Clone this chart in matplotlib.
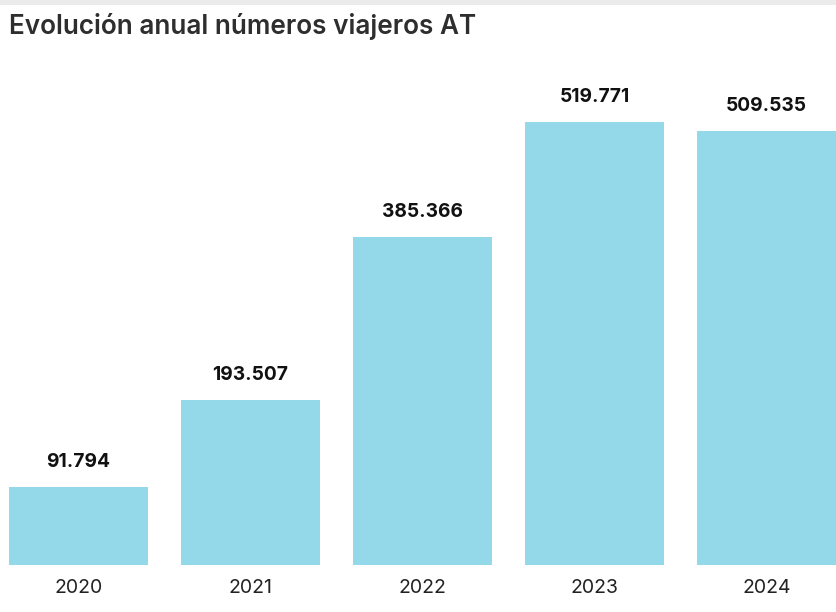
import matplotlib
matplotlib.use("Agg")
import matplotlib.pyplot as plt
from matplotlib.patches import Rectangle

years = ["2020", "2021", "2022", "2023", "2024"]
viajeros = [91794, 193507, 385366, 519771, 509535]
value_labels = ["91.794", "193.507", "385.366", "519.771", "509.535"]

W, H = 836, 612
fig = plt.figure(figsize=(W / 100, H / 100), dpi=100)
fig.patch.set_facecolor("white")

# thin grey strip at the very top
fig.add_artist(Rectangle((0, 1 - 5 / H), 1, 5 / H, transform=fig.transFigure,
                         color="#ebebeb", lw=0))

fig.text(9 / W, 1 - 26 / H, "Evolución anual números viajeros AT", family="Inter",
         fontsize=18.8, fontweight="semibold", color="#2e2e2e", va="center", ha="left")

left, bottom, top = 9, 565, 60
ax = fig.add_axes([left / W, 1 - bottom / H, (W - left) / W, (bottom - top) / H])
w = 0.807
x = range(len(years))
bars = ax.bar(x, viajeros, width=w, color="#93d9ea")
ax.set_xlim(-w / 2, len(years) - 1 + w / 2)
ax.set_ylim(0, 592700)
for b, lab in zip(bars, value_labels):
    ax.annotate(lab, (b.get_x() + b.get_width() / 2, b.get_height()),
                xytext=(0, 16), textcoords="offset pixels", ha="center", va="bottom",
                family="Inter", fontsize=13.8, fontweight="bold", color="#111111")
ax.set_xticks(list(x))
ax.set_xticklabels(years, family="Inter", fontsize=14, color="#222222")
ax.tick_params(axis="x", length=0, pad=10)
ax.set_yticks([])
for s in ax.spines.values():
    s.set_visible(False)

fig.savefig("out.png", dpi=100, facecolor="white")
